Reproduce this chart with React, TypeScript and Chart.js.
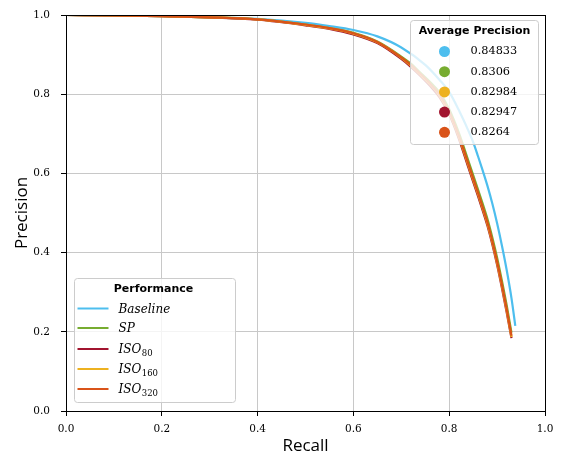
import React, { useEffect, useRef } from 'react';
import { Chart, registerables } from 'chart.js';

Chart.register(...registerables);

// ---- data ----
const LABEL_MAIN = ['Baseline', 'SP', 'ISO', 'ISO', 'ISO'];
const LABEL_SUB = ['', '', '80', '160', '320'];
const COLORS = ['#4DBEEE', '#77AC30', '#A2142F', '#EDB120', '#D95319'];
const AVG_PRECISION = ['0.84833', '0.8306', '0.82984', '0.82947', '0.8264'];
const AVG_PRECISION_COLORS = ['#4DBEEE', '#77AC30', '#EDB120', '#A2142F', '#D95319'];
const AXIS_TICKS = [0, 0.2, 0.4, 0.6, 0.8, 1.0];

const RECALL_BASELINE = [0, 0.1, 0.2, 0.3, 0.4, 0.5, 0.55, 0.6, 0.65, 0.7, 0.75, 0.78, 0.8, 0.82, 0.84, 0.85, 0.86, 0.87, 0.88, 0.89, 0.9, 0.91, 0.92, 0.93, 0.938];
const PREC_BASELINE = [1.0, 0.999, 0.997, 0.994, 0.99, 0.98, 0.972, 0.962, 0.946, 0.918, 0.874, 0.836, 0.806, 0.76, 0.708, 0.679, 0.644, 0.607, 0.568, 0.524, 0.474, 0.418, 0.356, 0.285, 0.215];

const RECALL_OTHERS = [0, 0.1, 0.2, 0.3, 0.4, 0.5, 0.55, 0.6, 0.65, 0.7, 0.72, 0.74, 0.76, 0.78, 0.8, 0.82, 0.84, 0.86, 0.87, 0.88, 0.89, 0.9, 0.91, 0.92, 0.93];
const PREC_SP = [1.0, 0.999, 0.997, 0.994, 0.989, 0.976, 0.967, 0.955, 0.933, 0.895, 0.877, 0.854, 0.831, 0.804, 0.762, 0.703, 0.632, 0.56, 0.523, 0.484, 0.438, 0.387, 0.329, 0.267, 0.198];
const PREC_ISO80 = [1.0, 0.999, 0.997, 0.994, 0.988, 0.974, 0.965, 0.951, 0.929, 0.889, 0.869, 0.846, 0.821, 0.792, 0.749, 0.688, 0.615, 0.543, 0.506, 0.467, 0.421, 0.369, 0.311, 0.249, 0.184];
const PREC_ISO160 = [1.0, 0.999, 0.997, 0.994, 0.989, 0.975, 0.966, 0.953, 0.931, 0.892, 0.872, 0.849, 0.825, 0.796, 0.753, 0.693, 0.62, 0.548, 0.511, 0.472, 0.426, 0.374, 0.316, 0.254, 0.187];
const PREC_ISO320 = [1.0, 0.999, 0.997, 0.994, 0.989, 0.976, 0.967, 0.954, 0.932, 0.893, 0.874, 0.851, 0.827, 0.799, 0.756, 0.696, 0.624, 0.552, 0.515, 0.476, 0.43, 0.378, 0.32, 0.258, 0.19];

const SERIES_X = [RECALL_BASELINE, RECALL_OTHERS, RECALL_OTHERS, RECALL_OTHERS, RECALL_OTHERS];
const SERIES_Y = [PREC_BASELINE, PREC_SP, PREC_ISO80, PREC_ISO160, PREC_ISO320];

const SERIF = '"DejaVu Serif", serif';
const SANS = '"DejaVu Sans", sans-serif';

function roundBox(ctx: CanvasRenderingContext2D, x: number, y: number, w: number, h: number, r: number) {
  ctx.beginPath();
  ctx.moveTo(x + r, y);
  ctx.lineTo(x + w - r, y);
  ctx.arcTo(x + w, y, x + w, y + r, r);
  ctx.lineTo(x + w, y + h - r);
  ctx.arcTo(x + w, y + h, x + w - r, y + h, r);
  ctx.lineTo(x + r, y + h);
  ctx.arcTo(x, y + h, x, y + h - r, r);
  ctx.lineTo(x, y + r);
  ctx.arcTo(x, y, x + r, y, r);
  ctx.closePath();
  ctx.fillStyle = 'rgba(255,255,255,0.8)';
  ctx.fill();
  ctx.strokeStyle = '#cccccc';
  ctx.lineWidth = 1;
  ctx.stroke();
}

const spinesPlugin = {
  id: 'spines',
  afterDatasetsDraw(chart: any) {
    const { ctx, chartArea } = chart;
    const { left, right, top, bottom } = chartArea;
    ctx.save();
    ctx.strokeStyle = '#000';
    ctx.lineWidth = 1;
    ctx.strokeRect(Math.round(left) + 0.5, Math.round(top) + 0.5, Math.round(right - left), Math.round(bottom - top));
    ctx.restore();
  },
};

const legendsPlugin = {
  id: 'customLegends',
  afterDraw(chart: any) {
    const { ctx, chartArea } = chart;
    ctx.save();

    // Average Precision legend (top right)
    const apW = 128, apH = 124;
    const apX = chartArea.right - 6.5 - apW;
    const apY = chartArea.top + 5.5;
    roundBox(ctx, apX, apY, apW, apH, 3);
    ctx.fillStyle = '#000';
    ctx.textBaseline = 'middle';
    ctx.textAlign = 'center';
    ctx.font = `bold 11px ${SANS}`;
    ctx.fillText('Average Precision', apX + apW / 2, apY + 10.5);
    ctx.textAlign = 'left';
    AVG_PRECISION.forEach((v, i) => {
      const cy = apY + 31 + i * 20.2;
      ctx.beginPath();
      ctx.arc(apX + 34, cy, 5.5, 0, Math.PI * 2);
      ctx.fillStyle = AVG_PRECISION_COLORS[i];
      ctx.fill();
      ctx.fillStyle = '#000';
      ctx.font = `11.3px ${SERIF}`;
      ctx.fillText(v, apX + 60, cy);
    });

    // Performance legend (bottom left)
    const pW = 161, pH = 124;
    const pX = chartArea.left + 8.5;
    const pY = chartArea.bottom - 8.5 - pH;
    roundBox(ctx, pX, pY, pW, pH, 3);
    ctx.fillStyle = '#000';
    ctx.textAlign = 'center';
    ctx.textBaseline = 'middle';
    ctx.font = `bold 11px ${SANS}`;
    ctx.fillText('Performance', pX + 79, pY + 10.5);
    const rowOffsets = [30, 49.5, 70.5, 90.5, 110.5];
    LABEL_MAIN.forEach((main, i) => {
      const cy = pY + rowOffsets[i];
      ctx.strokeStyle = COLORS[i];
      ctx.lineWidth = 2;
      ctx.beginPath();
      ctx.moveTo(pX + 3, cy);
      ctx.lineTo(pX + 34, cy);
      ctx.stroke();
      ctx.fillStyle = '#000';
      ctx.textAlign = 'left';
      ctx.textBaseline = 'alphabetic';
      ctx.font = `italic 12px ${SERIF}`;
      const tx = pX + 44;
      const base = cy + 4;
      ctx.fillText(main, tx, base);
      const sub = LABEL_SUB[i];
      if (sub) {
        const w = ctx.measureText(main).width;
        ctx.font = `8.5px ${SERIF}`;
        ctx.fillText(sub, tx + w + 0.5, base + 3);
      }
    });
    ctx.restore();
  },
};

export default function App() {
  const canvasRef = useRef<HTMLCanvasElement | null>(null);

  useEffect(() => {
    const canvas = canvasRef.current;
    if (!canvas) return;
    const order = [4, 3, 2, 1, 0];
    const datasets = SERIES_Y.map((ys, s) => ({
      label: LABEL_MAIN[s] + LABEL_SUB[s],
      data: SERIES_X[s].map((x, i) => ({ x, y: ys[i] })),
      borderColor: COLORS[s],
      backgroundColor: COLORS[s],
      borderWidth: 2.2,
      pointRadius: 0,
      showLine: true,
      fill: false,
      cubicInterpolationMode: 'monotone' as const,
      order: order[s],
    }));

    const tickFont = { family: SERIF, size: 10.5 };
    const chart = new Chart(canvas, {
      type: 'scatter',
      data: { datasets },
      plugins: [spinesPlugin, legendsPlugin],
      options: {
        animation: false,
        responsive: false,
        devicePixelRatio: 1,
        layout: { padding: { top: 15, right: 18, left: 0, bottom: 0 } },
        plugins: { legend: { display: false }, tooltip: { enabled: false } },
        scales: {
          x: {
            type: 'linear',
            min: 0,
            max: 1,
            afterBuildTicks: (scale: any) => {
              scale.ticks = AXIS_TICKS.map((v) => ({ value: v }));
            },
            afterFit: (scale: any) => {
              scale.height = 45;
              scale.paddingLeft = 0;
              scale.paddingRight = 0;
            },
            ticks: {
              color: '#000',
              font: tickFont,
              padding: 7,
              maxRotation: 0,
              callback: (v: any) => Number(v).toFixed(1),
            },
            grid: { color: '#c8c8c8', lineWidth: 1, tickColor: '#000', tickLength: 5 },
            border: { display: true, color: '#000', width: 1 },
            title: {
              display: true,
              text: 'Recall',
              color: '#000',
              font: { family: '"Open Sans", sans-serif', size: 17 },
              padding: { top: 0, bottom: 0 },
            },
          },
          y: {
            type: 'linear',
            min: 0,
            max: 1,
            afterBuildTicks: (scale: any) => {
              scale.ticks = AXIS_TICKS.map((v) => ({ value: v }));
            },
            afterFit: (scale: any) => {
              scale.width = 66;
              scale.paddingTop = 0;
              scale.paddingBottom = 0;
            },
            ticks: {
              color: '#000',
              font: tickFont,
              padding: 11,
              callback: (v: any) => Number(v).toFixed(1),
            },
            grid: { color: '#c8c8c8', lineWidth: 1, tickColor: '#000', tickLength: 5 },
            border: { display: true, color: '#000', width: 1 },
            title: {
              display: true,
              text: 'Precision',
              color: '#000',
              font: { family: '"Open Sans", sans-serif', size: 17 },
              padding: { top: 12, bottom: 0 },
            },
          },
        },
      },
    });
    return () => chart.destroy();
  }, []);

  return (
    <div style={{ position: 'fixed', left: 0, top: 0, width: 563, height: 456, background: '#fff' }}>
      <canvas ref={canvasRef} width={563} height={456} style={{ display: 'block', width: 563, height: 456 }} />
    </div>
  );
}
